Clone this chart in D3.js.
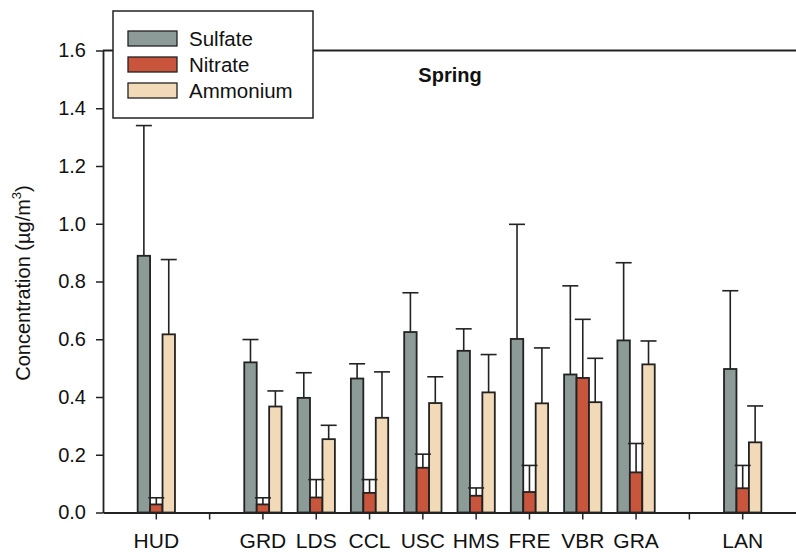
<!DOCTYPE html>
<html>
<head>
<meta charset="utf-8">
<script src="https://cdn.jsdelivr.net/npm/d3@7"></script>
<style>
  body { margin: 0; background: #fff; }
  svg { display: block; font-family: Arial, "Liberation Sans", Helvetica, sans-serif; }
</style>
</head>
<body>
<svg id="chart" width="796" height="552"></svg>
<script>
// sites along the x axis, blanks are empty slots
const sites = ["HUD", "", "GRD", "LDS", "CCL", "USC", "HMS", "FRE", "VBR", "GRA", "", "LAN"];
const series = ["Sulfate", "Nitrate", "Ammonium"];
const colors = ["#8c9a98", "#c8553c", "#f2dab8"];

// mean values
const sulfate  = [0.889, null, 0.520, 0.397, 0.464, 0.625, 0.560, 0.601, 0.478, 0.596, null, 0.497];
const nitrate  = [0.028, null, 0.028, 0.052, 0.068, 0.155, 0.058, 0.071, 0.466, 0.139, null, 0.084];
const ammonium = [0.617, null, 0.367, 0.254, 0.328, 0.379, 0.416, 0.378, 0.382, 0.513, null, 0.243];

// top of the error bar
const sulfateErr  = [1.340, null, 0.599, 0.484, 0.515, 0.761, 0.636, 0.998, 0.785, 0.865, null, 0.768];
const nitrateErr  = [0.051, null, 0.051, 0.114, 0.114, 0.202, 0.085, 0.163, 0.669, 0.239, null, 0.163];
const ammoniumErr = [0.876, null, 0.421, 0.302, 0.487, 0.470, 0.547, 0.570, 0.534, 0.594, null, 0.369];

const yTicks = [0, 0.2, 0.4, 0.6, 0.8, 1.0, 1.2, 1.4, 1.6];

const values = [sulfate, nitrate, ammonium];
const errors = [sulfateErr, nitrateErr, ammoniumErr];

const svg = d3.select('#chart');
const plotLeft = 103, plotRight = 796, plotTop = 50.5, plotBottom = 512.5;
const ink = "#222";

// slot keys must be unique for the band scale
const slots = sites.map((s, i) => s === "" ? "_" + i : s);

const x = d3.scaleBand()
	.domain(slots)
	.range([plotLeft, plotRight])
	.paddingInner(0)
	.paddingOuter(0.5);

const inner = d3.scaleBand()
	.domain(series)
	.range([0, x.bandwidth() * 0.7]);

const y = d3.scaleLinear()
	.domain([0, 1.6])
	.range([plotBottom, plotTop]);

// flatten into bar records
let bars = [];
series.forEach((s, j) => {
	slots.forEach((slot, i) => {
		if (values[j][i] === null) return;
		bars.push({ slot: slot, series: s, j: j, value: values[j][i], err: errors[j][i] });
	});
});

const groupOffset = x.bandwidth() * 0.15;

svg.append('g')
	.selectAll('rect')
	.data(bars)
	.enter()
	.append('rect')
	.attr('x', d => x(d.slot) + groupOffset + inner(d.series))
	.attr('y', d => y(d.value))
	.attr('width', inner.bandwidth())
	.attr('height', d => y(0) - y(d.value))
	.style('fill', d => colors[d.j])
	.style('stroke', ink)
	.style('stroke-width', 1.8);

// error bars, upper side only
const capW = 16;
const err = svg.append('g')
	.style('stroke', ink)
	.style('stroke-width', 1.6);

bars.forEach(d => {
	let cx = x(d.slot) + groupOffset + inner(d.series) + inner.bandwidth() / 2;
	err.append('line')
		.attr('x1', cx).attr('x2', cx)
		.attr('y1', y(d.value)).attr('y2', y(d.err));
	err.append('line')
		.attr('x1', cx - capW / 2).attr('x2', cx + capW / 2)
		.attr('y1', y(d.err)).attr('y2', y(d.err));
});

// top frame line
svg.append('line')
	.attr('x1', plotLeft).attr('x2', plotRight)
	.attr('y1', y(1.6)).attr('y2', y(1.6))
	.style('stroke', ink)
	.style('stroke-width', 1.8);

// y axis
const yAxis = svg.append('g')
	.attr('transform', `translate(${plotLeft},0)`)
	.call(d3.axisLeft(y).tickValues(yTicks).tickFormat(d3.format('.1f')).tickSize(7).tickPadding(10).tickSizeOuter(0));

// x axis
const xAxis = svg.append('g')
	.attr('transform', `translate(0,${plotBottom})`)
	.call(d3.axisBottom(x).tickFormat(d => d.startsWith('_') ? '' : d).tickSize(7).tickPadding(14).tickSizeOuter(0));

[yAxis, xAxis].forEach(a => {
	a.select('.domain').style('stroke', ink).style('stroke-width', 1.8);
	a.selectAll('.tick line').style('stroke', ink).style('stroke-width', 1.5);
	a.selectAll('text')
		.style('font-family', 'Arial, "Liberation Sans", sans-serif')
		.style('fill', '#111');
});
yAxis.selectAll('text').style('font-size', '20px');
xAxis.selectAll('text').style('font-size', '21px');

// axis title
const yTitle = svg.append('text')
	.attr('transform', 'translate(30,283) rotate(-90)')
	.attr('text-anchor', 'middle')
	.style('font-size', '20px')
	.style('fill', '#111');
yTitle.append('tspan').text('Concentration (\u00b5g/m');
yTitle.append('tspan').text('3').attr('dy', -9).style('font-size', '13px');
yTitle.append('tspan').text(')').attr('dy', 9);

// panel label
svg.append('text')
	.attr('x', 450)
	.attr('y', 82)
	.attr('text-anchor', 'middle')
	.style('font-size', '20px')
	.style('font-weight', 'bold')
	.style('fill', '#111')
	.text('Spring');

// legend
const legend = svg.append('g');
legend.append('rect')
	.attr('x', 113).attr('y', 11)
	.attr('width', 200).attr('height', 107)
	.style('fill', '#fff')
	.style('stroke', ink)
	.style('stroke-width', 1.5);

series.forEach((s, j) => {
	legend.append('rect')
		.attr('x', 128).attr('y', 31 + j * 26)
		.attr('width', 49).attr('height', 15)
		.style('fill', colors[j])
		.style('stroke', ink)
		.style('stroke-width', 1.3);
	legend.append('text')
		.attr('x', 189).attr('y', 46 + j * 26)
		.style('font-size', '20.5px')
		.style('fill', '#111')
		.text(s);
});
</script>
</body>
</html>
